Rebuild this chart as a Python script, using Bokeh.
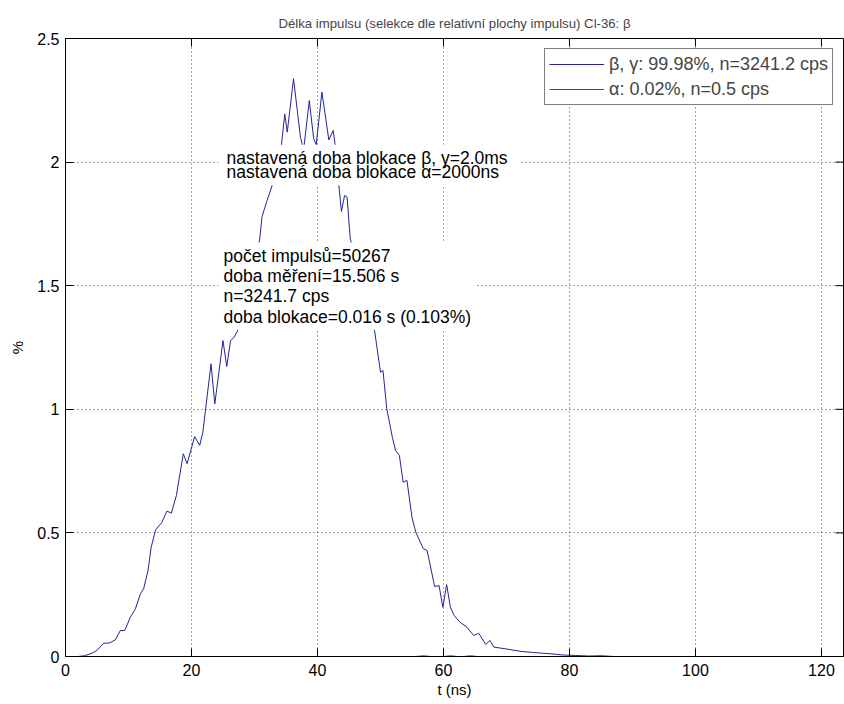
import math
from bokeh.plotting import figure
from bokeh.models import Range1d, Label, Legend, LegendItem, FixedTicker
from bokeh.embed import file_html
from bokeh.resources import INLINE

# ---- data ----
t_beta = [2.0, 3.0, 4.2, 5.0, 6.1, 6.9, 7.9, 8.7, 9.4, 10.3, 11.1, 11.9, 12.4, 13.1, 13.6,
          14.3, 15.3, 16.1, 16.8, 17.6, 18.7, 19.3, 20.5, 21.3, 21.8, 23.1, 23.7, 25.0, 25.6,
          26.2, 26.7, 27.3, 28.0, 28.6, 29.3, 30.0, 30.8, 31.2, 32.0, 32.8, 33.5, 34.2, 34.8,
          35.2, 36.2, 37.3, 37.8, 38.7, 39.4, 39.8, 40.7, 41.8, 42.5, 42.9, 43.4, 43.8, 44.3,
          44.7, 45.2, 46.2, 47.2, 48.2, 49.1, 50.0, 50.4, 51.0, 51.9, 52.4, 53.0, 53.6, 54.2,
          55.0, 55.6, 56.8, 57.4, 58.6, 59.3, 59.9, 60.5, 61.1, 61.7, 62.6, 63.7, 64.8, 65.6,
          66.7, 67.4, 68.0, 70.1, 72.2, 74.3, 77.0, 79.0, 81.0, 83.0, 85.0, 87.0]
p_beta = [0.000, 0.003, 0.013, 0.025, 0.054, 0.054, 0.067, 0.105, 0.105, 0.159, 0.193, 0.254,
          0.274, 0.348, 0.442, 0.512, 0.543, 0.588, 0.580, 0.651, 0.820, 0.780, 0.890, 0.854,
          0.907, 1.184, 1.022, 1.278, 1.173, 1.278, 1.289, 1.316, 1.40, 1.46, 1.55, 1.60, 1.683,
          1.780, 1.845, 1.905, 1.98, 2.05, 2.195, 2.121, 2.337, 2.100, 2.050, 2.249, 2.094,
          2.070, 2.283, 2.090, 2.128, 2.050, 1.905, 1.800, 1.865, 1.858, 1.690, 1.60, 1.50,
          1.40, 1.312, 1.150, 1.157, 1.002, 0.885, 0.833, 0.813, 0.705, 0.712, 0.563, 0.503,
          0.436, 0.429, 0.283, 0.287, 0.199, 0.291, 0.199, 0.166, 0.139, 0.119, 0.085, 0.094,
          0.049, 0.065, 0.038, 0.030, 0.021, 0.016, 0.011, 0.006, 0.004, 0.002, 0.003, 0.000]

t_alpha = [55.5, 56.8, 58.0, 60.0, 61.1, 62.2, 63.2, 64.3, 65.4]
p_alpha = [0.0, 0.003, 0.0, 0.0, 0.003, 0.0, 0.0, 0.003, 0.0]

x_ticks = [0, 20, 40, 60, 80, 100, 120]
y_ticks = [0, 0.5, 1, 1.5, 2, 2.5]
y_tick_labels = {0: "0", 0.5: "0.5", 1: "1", 1.5: "1.5", 2: "2", 2.5: "2.5"}

title = "Délka impulsu (selekce dle relativní plochy impulsu) Cl-36: β"
legend_beta = "β, γ: 99.98%, n=3241.2 cps"
legend_alpha = "α: 0.02%, n=0.5 cps"
note1 = "nastavená doba blokace  β, γ=2.0ms\nnastavená doba blokace α=2000ns"
note2 = "počet impulsů=50267\ndoba měření=15.506 s\nn=3241.7 cps\ndoba blokace=0.016 s (0.103%)"

FONT = "Liberation Sans"
X_END = 123.5
Y_END = 2.5

p = figure(width=844, height=704, x_range=Range1d(0, X_END), y_range=Range1d(0, Y_END),
           output_backend="svg", toolbar_location=None,
           min_border_left=65, min_border_right=1, min_border_top=38, min_border_bottom=48)

p.title.text = title
p.title.align = "center"
p.title.text_font = FONT
p.title.text_font_size = "13.2px"
p.title.text_font_style = "normal"
p.title.offset = 0
p.title.standoff = 15

r_beta = p.line(t_beta, p_beta, line_color="#23239a", line_width=1)
r_alpha = p.line(t_alpha, p_alpha, line_color="#ff0000", line_width=1)

# inward box ticks on top and right edges (clipped to the frame)
p.scatter(x_ticks, [Y_END] * len(x_ticks), marker="dash", size=16, angle=math.pi / 2,
          line_color="black", line_width=1)
p.scatter([X_END] * len(y_ticks), y_ticks, marker="dash", size=16,
          line_color="black", line_width=1)

p.outline_line_color = "black"
p.outline_line_width = 1
p.outline_line_alpha = 1

for ax in (p.xaxis[0], p.yaxis[0]):
    ax.major_tick_in = 8
    ax.major_tick_out = 0
    ax.minor_tick_line_color = None
    ax.axis_line_color = "black"
    ax.major_tick_line_color = "black"
    ax.major_label_text_font = FONT
    ax.major_label_text_font_size = "16px"
    ax.major_label_text_color = "black"
    ax.axis_label_text_font = FONT
    ax.axis_label_text_font_size = "15px"
    ax.axis_label_text_font_style = "normal"
    ax.axis_label_text_color = "black"

p.xaxis.ticker = FixedTicker(ticks=x_ticks)
p.yaxis.ticker = FixedTicker(ticks=y_ticks)
p.yaxis.major_label_overrides = y_tick_labels
p.xaxis.axis_label = "t (ns)"
p.yaxis.axis_label = "%"
p.xaxis.major_label_standoff = 7
p.xaxis.axis_label_standoff = 2
p.yaxis.major_label_standoff = 6
p.yaxis.axis_label_standoff = 8

p.xgrid.ticker = FixedTicker(ticks=x_ticks)
p.ygrid.ticker = FixedTicker(ticks=y_ticks)
for g in (p.xgrid[0], p.ygrid[0]):
    g.grid_line_color = "#333333"
    g.grid_line_dash = "1 3"
    g.grid_line_width = 1
    g.grid_line_alpha = 0.9

lab1 = Label(x=24.3, y=1.988, text=note1, text_baseline="middle", text_align="left",
             text_font=FONT, text_font_size="17.5px", text_color="black", text_line_height=0.72,
             background_fill_color="white", background_fill_alpha=1.0, padding=(8, 3))
lab2 = Label(x=24.3, y=1.498, text=note2, text_baseline="middle", text_align="left",
             text_font=FONT, text_font_size="17.5px", text_color="black", text_line_height=1.02,
             background_fill_color="white", background_fill_alpha=1.0, padding=(5, 3))
p.add_layout(lab1)
p.add_layout(lab2)

legend = Legend(items=[LegendItem(label=legend_beta, renderers=[r_beta]),
                       LegendItem(label=legend_alpha, renderers=[r_alpha])],
                location="top_right", margin=10, padding=4, spacing=3,
                glyph_width=55, glyph_height=22, label_height=22, label_standoff=5,
                label_text_font=FONT, label_text_font_size="18px",
                border_line_color="black", border_line_width=1,
                background_fill_color="white", background_fill_alpha=1.0)
p.add_layout(legend)

open("out.html", "w").write(file_html(p, INLINE))
